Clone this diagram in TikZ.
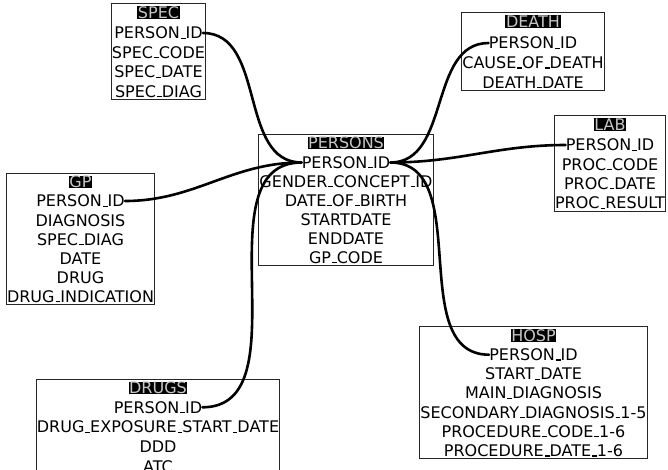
\documentclass[tikz,border=0pt]{standalone}
\usepackage{fontspec}
\setmainfont{DejaVu Sans}
\usetikzlibrary{fit}
% low, short underscore as in classic LaTeX output
\newcommand\usc{\kern.06em\rule{.3em}{1.1pt}}
\begin{document}
\begin{tikzpicture}[x=1pt,y=-1pt,
  field/.style={inner sep=0pt, font=\fontsize{16}{19}\selectfont,
    text height=11.7pt, text depth=0pt},
  head/.style={field, fill=black, text=black!22, inner sep=0.6pt},
  tablebox/.style={draw=black!85, line width=0.9pt, inner xsep=0.6pt, inner ysep=2pt},
  link/.style={line width=2.6pt, line cap=round}]
\clip (0,0) rectangle (668,469);

% SPEC
\node[head]  (spec-h)  at (158.5,12.5) {SPEC};
\node[field] (spec-id) at (158.5,33)   {PERSON\usc ID};
\node[field] (spec-2)  at (158.5,52.5) {SPEC\usc CODE};
\node[field] (spec-3)  at (158.5,72)   {SPEC\usc DATE};
\node[field] (spec-4)  at (158.5,91.5) {SPEC\usc DIAG};
\node[tablebox, fit=(spec-h)(spec-id)(spec-2)(spec-3)(spec-4)] (spec) {};

% DEATH
\node[head]  (death-h)  at (533,21.5) {DEATH};
\node[field] (death-id) at (533,43)   {PERSON\usc ID};
\node[field] (death-2)  at (533,62.7) {CAUSE\usc OF\usc DEATH};
\node[field] (death-3)  at (533,82.4) {DEATH\usc DATE};
\node[tablebox, fit=(death-h)(death-id)(death-2)(death-3)] (death) {};

% LAB
\node[head]  (lab-h)  at (610,124.5) {LAB};
\node[field] (lab-id) at (610,145)   {PERSON\usc ID};
\node[field] (lab-2)  at (610,164.3) {PROC\usc CODE};
\node[field] (lab-3)  at (610,183.6) {PROC\usc DATE};
\node[field] (lab-4)  at (610,202.9) {PROC\usc RESULT};
\node[tablebox, fit=(lab-h)(lab-id)(lab-2)(lab-3)(lab-4)] (lab) {};

% PERSONS
\node[head]  (persons-h)  at (346,143)   {PERSONS};
\node[field] (persons-id) at (346,162.5) {PERSON\usc ID};
\node[field] (persons-2)  at (346,181.5) {GENDER\usc CONCEPT\usc ID};
\node[field] (persons-3)  at (346,200.5) {DATE\usc OF\usc BIRTH};
\node[field] (persons-4)  at (346,219.5) {STARTDATE};
\node[field] (persons-5)  at (346,238.5) {ENDDATE};
\node[field] (persons-6)  at (346,257.5) {GP\usc CODE};
\node[tablebox, fit=(persons-h)(persons-id)(persons-2)(persons-3)(persons-4)(persons-5)(persons-6)] (persons) {};

% GP
\node[head]  (gp-h)  at (80.5,182)   {GP};
\node[field] (gp-id) at (80.5,201)   {PERSON\usc ID};
\node[field] (gp-2)  at (80.5,220.2) {DIAGNOSIS};
\node[field] (gp-3)  at (80.5,239.3) {SPEC\usc DIAG};
\node[field] (gp-4)  at (80.5,258.3) {DATE};
\node[field] (gp-5)  at (80.5,277.3) {DRUG};
\node[field] (gp-6)  at (80.5,296.3) {DRUG\usc INDICATION};
\node[tablebox, fit=(gp-h)(gp-id)(gp-2)(gp-3)(gp-4)(gp-5)(gp-6)] (gp) {};

% DRUGS
\node[head]  (drugs-h)  at (158,388)   {DRUGS};
\node[field] (drugs-id) at (158,407.3) {PERSON\usc ID};
\node[field] (drugs-2)  at (158,427)   {DRUG\usc EXPOSURE\usc START\usc DATE};
\node[field] (drugs-3)  at (158,446.8) {DDD};
\node[field] (drugs-4)  at (158,466.5) {ATC};
\node[tablebox, fit=(drugs-h)(drugs-id)(drugs-2)(drugs-3)(drugs-4)] (drugs) {};

% HOSP
\node[head]  (hosp-h)  at (533.5,335.5) {HOSP};
\node[field] (hosp-id) at (533.5,354.7) {PERSON\usc ID};
\node[field] (hosp-2)  at (533.5,373.9) {START\usc DATE};
\node[field] (hosp-3)  at (533.5,393.1) {MAIN\usc DIAGNOSIS};
\node[field] (hosp-4)  at (533.5,412.3) {SECONDARY\usc DIAGNOSIS\usc 1-5};
\node[field] (hosp-5)  at (533.5,431.5) {PROCEDURE\usc CODE\usc 1-6};
\node[field] (hosp-6)  at (533.5,450.7) {PROCEDURE\usc DATE\usc 1-6};
\node[tablebox, fit=(hosp-h)(hosp-id)(hosp-2)(hosp-3)(hosp-4)(hosp-5)(hosp-6)] (hosp) {};

% links on PERSON_ID
\draw[link] (spec-id.east)  to[out=0,in=180] (persons-id.west);
\draw[link] (gp-id.east)    to[out=0,in=180] (persons-id.west);
\draw[link] (drugs-id.east) to[out=0,in=180] (persons-id.west);
\draw[link] (persons-id.east) to[out=0,in=180] (death-id.west);
\draw[link] (persons-id.east) to[out=0,in=180] (lab-id.west);
\draw[link] (persons-id.east) to[out=0,in=180] (hosp-id.west);
\end{tikzpicture}
\end{document}
